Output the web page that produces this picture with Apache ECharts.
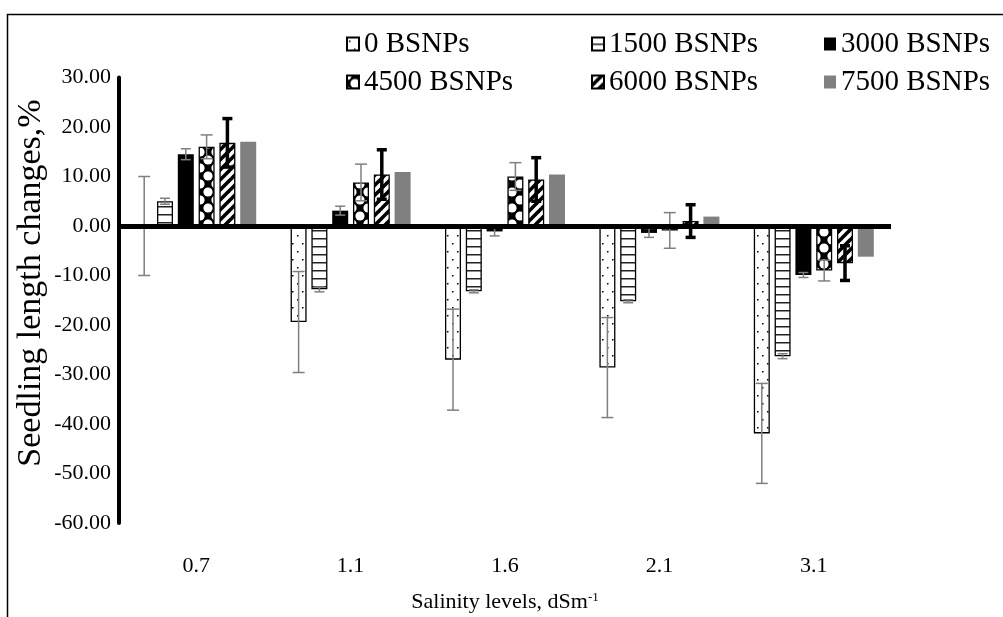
<!DOCTYPE html>
<html>
<head>
<meta charset="utf-8">
<script src="https://cdn.jsdelivr.net/npm/echarts@6/dist/echarts.min.js"></script>
<style>html,body{margin:0;padding:0;background:#fff;}#chart{width:1003px;height:617px;}</style>
</head>
<body>
<div id="chart"></div>
<script>
// ---- data ----
const categories = ['0.7', '1.1', '1.6', '2.1', '3.1'];
const seriesNames = ['0 BSNPs', '1500 BSNPs', '3000 BSNPs', '4500 BSNPs', '6000 BSNPs', '7500 BSNPs'];
const bsnp0    = [0.0, -19.4, -27.0, -28.6, -41.9];
const bsnp1500 = [5.0, -12.8, -13.2, -15.2, -26.3];
const bsnp3000 = [14.5, 3.1, -1.1, -1.4, -9.9];
const bsnp4500 = [16.0, 8.8, 10.0, -0.9, -9.0];
const bsnp6000 = [16.8, 10.4, 9.4, 1.0, -7.5];
const bsnp7500 = [17.0, 10.9, 10.4, 1.9, -6.2];
const err0    = [10.0, 10.2, 10.2, 10.1, 10.1];
const err1500 = [0.6, 0.5, 0.3, 0.3, 0.5];
const err3000 = [1.1, 0.9, 0.9, 0.9, 0.5];
const err4500 = [2.4, 3.7, 2.8, 3.6, 2.1];
const err6000 = [4.9, 5.0, 4.4, 3.3, 3.5];
const yTicks = { min: -60, max: 30, step: 10 };

// ---- patterns ----
function makePattern(w, h, draw, bg) {
  const c = document.createElement('canvas');
  c.width = w; c.height = h;
  const ctx = c.getContext('2d');
  ctx.fillStyle = bg || '#fff';
  ctx.fillRect(0, 0, w, h);
  draw(ctx);
  return { image: c, repeat: 'repeat' };
}
const patDots = makePattern(10, 16, ctx => {
  ctx.fillStyle = '#000';
  ctx.fillRect(2, 3, 1.5, 1.5);
  ctx.fillRect(7, 11, 1.5, 1.5);
});
const patLines = makePattern(8, 8, ctx => {
  ctx.fillStyle = '#222';
  ctx.fillRect(0, 6, 8, 1.5);
});
const patChecker = makePattern(16, 16, ctx => {
  ctx.fillStyle = '#fff';
  [[8, 8], [0, 0], [16, 0], [0, 16], [16, 16]].forEach(p => {
    ctx.beginPath(); ctx.arc(p[0], p[1], 4.6, 0, Math.PI * 2); ctx.fill();
  });
}, '#000');
const patDiag = makePattern(10, 10, ctx => {
  ctx.strokeStyle = '#000';
  ctx.lineWidth = 3.6;
  [[-10, 10, 10, -10], [0, 10, 10, 0], [0, 20, 20, 0]].forEach(l => {
    ctx.beginPath(); ctx.moveTo(l[0], l[1]); ctx.lineTo(l[2], l[3]); ctx.stroke();
  });
});

const FONT = 'Liberation Serif';
const BAR_W = 16;
const GAP_RATIO = 0.3;
const PITCH = BAR_W * (1 + GAP_RATIO);

const values = [bsnp0, bsnp1500, bsnp3000, bsnp4500, bsnp6000, bsnp7500];
const errors = [err0, err1500, err3000, err4500, err6000, null];
const styles = [
  { color: patDots, borderColor: '#000', borderWidth: 1.3 },
  { color: patLines, borderColor: '#000', borderWidth: 1.3 },
  { color: '#000', borderColor: '#000', borderWidth: 0 },
  { color: patChecker, borderColor: '#000', borderWidth: 1.3 },
  { color: patDiag, borderColor: '#000', borderWidth: 1.3 },
  { color: '#808080', borderWidth: 0 }
];
const errStyles = [
  { stroke: '#7f7f7f', w: 1.5, cap: 12 },
  { stroke: '#7f7f7f', w: 1.5, cap: 10 },
  { stroke: '#7f7f7f', w: 1.5, cap: 10 },
  { stroke: '#7f7f7f', w: 1.5, cap: 12 },
  { stroke: '#000', w: 3.5, cap: 10 }
];

const series = [];
values.forEach((v, i) => {
  series.push({
    name: seriesNames[i], type: 'bar', data: v,
    barWidth: BAR_W, barGap: (GAP_RATIO * 100) + '%',
    itemStyle: styles[i],
    emphasis: { disabled: true },
    markLine: i === 5 ? {
      silent: true, symbol: 'none', label: { show: false },
      lineStyle: { color: '#000', width: 5, type: 'solid' },
      data: [{ yAxis: 0 }], z: 10
    } : undefined
  });
});
errors.forEach((e, i) => {
  if (!e) return;
  const es = errStyles[i];
  const off = (i - 2.5) * PITCH;
  series.push({
    type: 'custom', name: 'err' + i, z: 5,
    data: values[i].map((v, k) => [k, v, e[k]]),
    renderItem: function (params, api) {
      const k = api.value(0), v = api.value(1), er = api.value(2);
      const top = api.coord([k, v + er]);
      const bot = api.coord([k, v - er]);
      const x = top[0] + off;
      const st = { stroke: es.stroke, lineWidth: es.w };
      return {
        type: 'group', children: [
          { type: 'line', shape: { x1: x, y1: top[1], x2: x, y2: bot[1] }, style: st },
          { type: 'line', shape: { x1: x - es.cap / 2, y1: top[1], x2: x + es.cap / 2, y2: top[1] }, style: st },
          { type: 'line', shape: { x1: x - es.cap / 2, y1: bot[1], x2: x + es.cap / 2, y2: bot[1] }, style: st }
        ]
      };
    }
  });
});

const legendCommon = {
  orient: 'vertical', itemWidth: 12, itemHeight: 13, itemGap: 8, icon: 'rect',
  textStyle: { fontFamily: FONT, fontSize: 29, color: '#000', lineHeight: 30 },
  selectedMode: false
};

const chart = echarts.init(document.getElementById('chart'), null, { renderer: 'canvas' });
chart.setOption({
  animation: false,
  backgroundColor: '#fff',
  grid: { left: 119, right: 112, top: 77.5, bottom: 617 - 523, containLabel: false, outerBoundsMode: 'none' },
  legend: [
    Object.assign({ left: 341, top: 24, data: [seriesNames[0], seriesNames[3]] }, legendCommon),
    Object.assign({ left: 586, top: 24, data: [seriesNames[1], seriesNames[4]] }, legendCommon),
    Object.assign({ left: 819, top: 24, data: [seriesNames[2], seriesNames[5]] }, legendCommon)
  ],
  xAxis: {
    type: 'category', data: categories,
    axisLine: { show: false, onZero: false },
    axisTick: { show: false },
    axisLabel: { margin: 32, fontFamily: FONT, fontSize: 22, color: '#000' },
    name: '{a|Salinity levels, dSm}{b|-1}',
    nameLocation: 'middle', nameGap: 68,
    nameTextStyle: {
      rich: {
        a: { fontFamily: FONT, fontSize: 22, color: '#000' },
        b: { fontFamily: FONT, fontSize: 13, color: '#000', padding: [0, 0, 10, 0] }
      }
    }
  },
  yAxis: {
    type: 'value', min: yTicks.min, max: yTicks.max, interval: yTicks.step,
    axisLine: { show: true, lineStyle: { color: '#000', width: 4 } },
    axisTick: { show: false },
    splitLine: { show: false },
    axisLabel: { margin: 8, fontFamily: FONT, fontSize: 22, color: '#000', formatter: v => v.toFixed(2) }
  },
  graphic: [
    { type: 'polyline', shape: { points: [[7.5, 617], [7.5, 14.5], [1003, 14.5]] },
      style: { stroke: '#000', lineWidth: 1.5, fill: null }, silent: true },
    { type: 'text', x: 31, y: 283, rotation: Math.PI / 2,
      style: { text: 'Seedling length changes,%', fontFamily: FONT, fontSize: 34, fill: '#000',
               textAlign: 'center', textVerticalAlign: 'middle', align: 'center', verticalAlign: 'middle' } }
  ],
  series: series
});
</script>
</body>
</html>
